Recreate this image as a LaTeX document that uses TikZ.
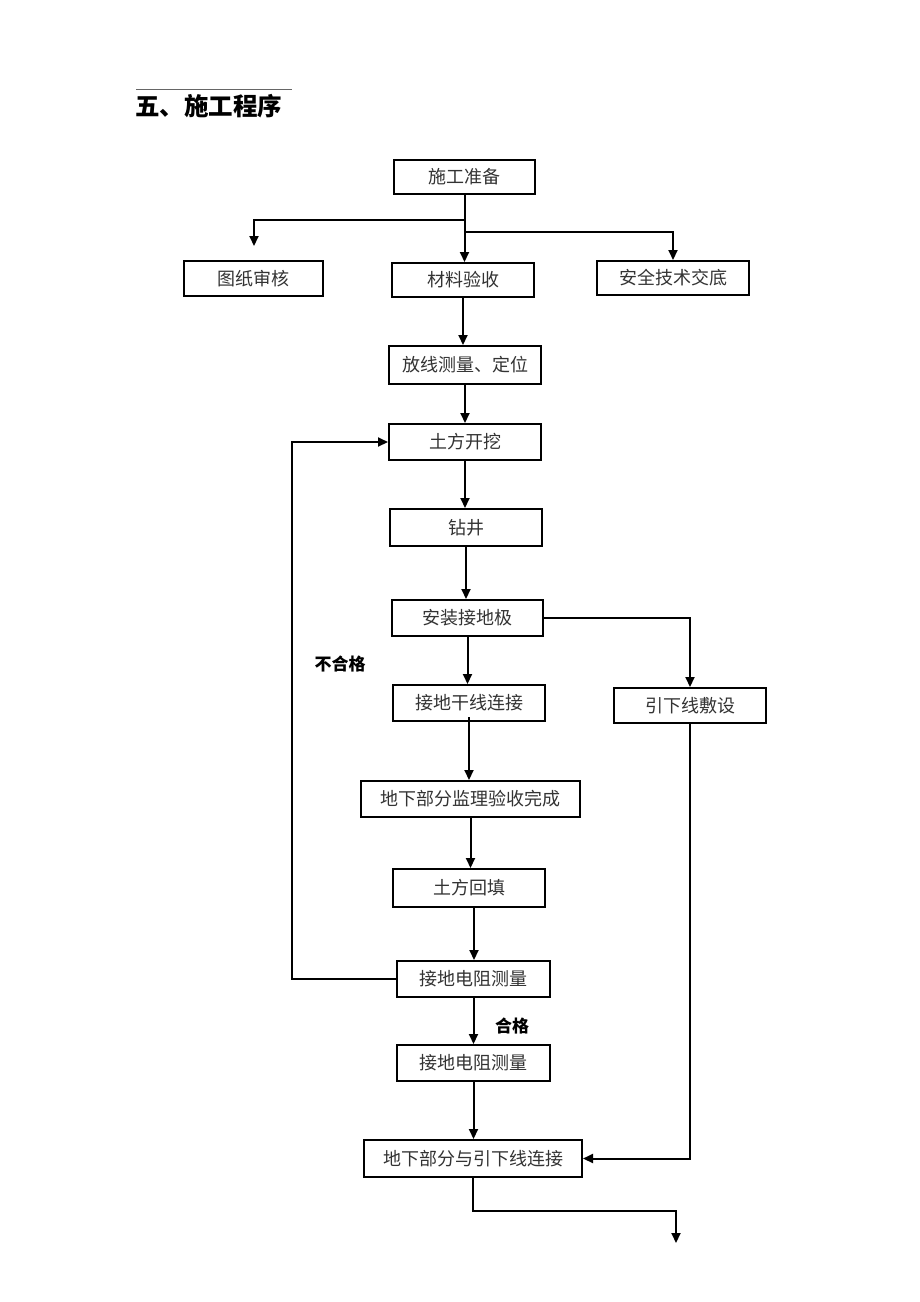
\documentclass[tikz,border=0pt]{standalone}
\usepackage{fontspec}
\setmainfont{Noto Sans CJK SC}
\usetikzlibrary{arrows.meta,calc}
\tikzset{
  box/.style={draw=black,line width=2pt,fill=white,inner sep=0pt,font=\fontsize{18}{20}\selectfont,text=black!80},
  arr/.style={line width=2pt,-{Triangle[length=10pt,width=9pt]}},
  lbl/.style={font=\fontsize{17}{19}\selectfont\bfseries,inner sep=0pt}
}
\begin{document}
\begin{tikzpicture}[x=1pt,y=-1pt]
\useasboundingbox (0,0) rectangle (920,1302);
\draw[line width=0.8pt,black!60] (136,89) -- (292,89);
\node[anchor=west,inner sep=0pt,font=\fontsize{24.5}{26}\selectfont\bfseries] (title) at (135,106) {五、施工程序};

\node[box,minimum width=141pt,minimum height=34pt] (a) at (464.5,177) {施工准备};
\node[box,minimum width=139pt,minimum height=35pt] (b) at (253.5,278.5) {图纸审核};
\node[box,minimum width=142pt,minimum height=34pt] (c) at (463,280) {材料验收};
\node[box,minimum width=152pt,minimum height=34pt] (d) at (673,278) {安全技术交底};
\node[box,minimum width=152pt,minimum height=38pt] (e) at (465,365) {放线测量、定位};
\node[box,minimum width=152pt,minimum height=36pt] (f) at (465,442) {土方开挖};
\node[box,minimum width=152pt,minimum height=37pt] (g) at (466,527.5) {钻井};
\node[box,minimum width=151pt,minimum height=36pt] (h) at (467.5,618) {安装接地极};
\node[box,minimum width=152pt,minimum height=35pt] (i) at (690,705.5) {引下线敷设};
\node[box,minimum width=152pt,minimum height=36pt] (j) at (469,703) {接地干线连接};
\node[box,minimum width=219pt,minimum height=36pt] (k) at (470.5,799) {地下部分监理验收完成};
\node[box,minimum width=152pt,minimum height=38pt] (l) at (469,888) {土方回填};
\node[box,minimum width=153pt,minimum height=36pt] (m) at (473.5,979) {接地电阻测量};
\node[box,minimum width=153pt,minimum height=36pt] (n) at (473.5,1063) {接地电阻测量};
\node[box,minimum width=218pt,minimum height=37pt] (o) at (473,1158.5) {地下部分与引下线连接};

\node[lbl] (bad) at (340,664) {不合格};
\node[lbl] (good) at (512,1026) {合格};

\coordinate (bt) at (254,246);
\coordinate (ej) at (465,220);
\coordinate (ek) at (465,232);
\coordinate (endc) at (676,1243);

% top branches
\draw[arr] (a.south) -- (a.south |- c.north);
\draw[arr] (ej) -| (bt);
\draw[arr] (ek) -| (d.north);

\draw[arr] (c.south) -- (c.south |- e.north);
\draw[arr] (e.south) -- (e.south |- f.north);
\draw[arr] (f.south) -- (f.south |- g.north);
\draw[arr] (g.south) -- (g.south |- h.north);
\draw[arr] (h.south) -- (h.south |- j.north);
\draw[arr] ([yshift=5pt]j.south) -- (j.south |- k.north);
\draw[arr] (k.south) -- (k.south |- l.north);
\draw[arr] ([xshift=5pt]l.south) -- ([xshift=5pt]l.south |- m.north);
\draw[arr] (m.south) -- (m.south |- n.north);
\draw[arr] (n.south) -- (n.south |- o.north);

% feedback loop
\draw[arr] (m.west) -- ++(-104,0) |- (f.west);

% side branch
\draw[arr] (h.east) -| (i.north);
\draw[arr] (i.south) |- (o.east);

% exit
\draw[arr] (o.south) -- ++(0,33) -| (endc);
\end{tikzpicture}
\end{document}
